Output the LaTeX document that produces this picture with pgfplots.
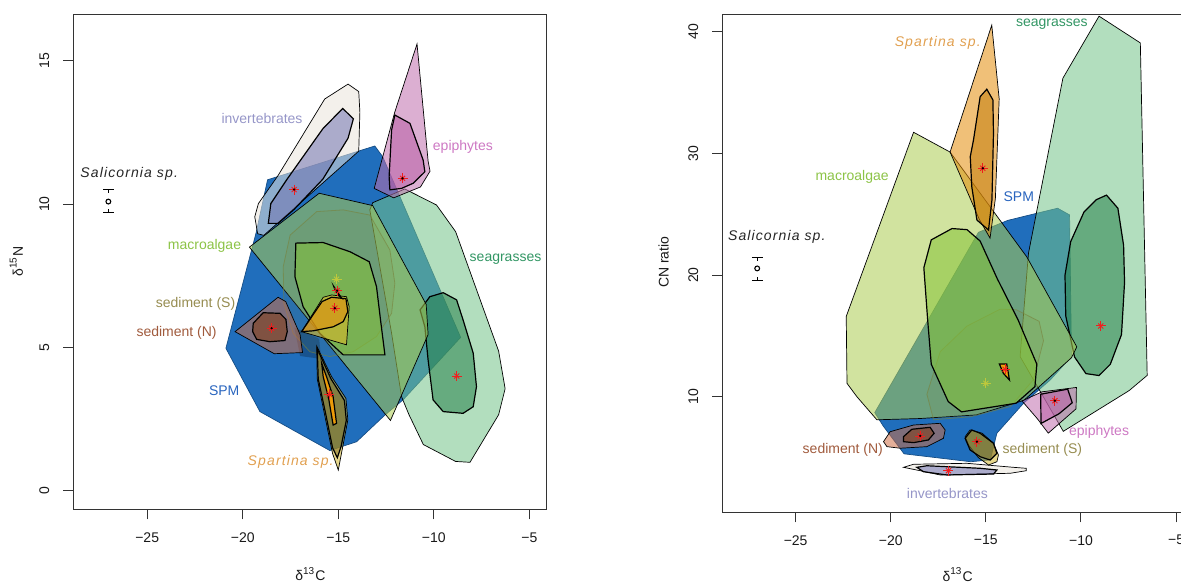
\documentclass[border=0pt]{standalone}
\usepackage{fontspec}
\setmainfont{Liberation Sans}
\newfontfamily\lsi[LetterSpace=8]{Liberation Sans}
\usepackage{pgfplots}
\pgfplotsset{compat=1.18}
\newcommand\fs{\fontsize{7}{8.4}\selectfont}
\definecolor{spm}{RGB}{32,110,188}
\definecolor{sgH}{RGB}{115,195,137}
\definecolor{sgI}{RGB}{40,130,75}
\definecolor{maH}{RGB}{172,204,80}
\definecolor{maI}{RGB}{132,195,54}
\definecolor{inH}{RGB}{233,228,219}
\definecolor{inI}{RGB}{114,116,177}
\definecolor{epH}{RGB}{191,110,173}
\definecolor{epI}{RGB}{184,93,165}
\definecolor{snH}{RGB}{205,110,70}
\definecolor{snI}{RGB}{130,60,20}
\definecolor{ssH}{RGB}{209,182,46}
\definecolor{ssI}{RGB}{130,110,30}
\definecolor{spH}{RGB}{228,140,10}
\definecolor{spI}{RGB}{195,125,11}
\definecolor{spO}{RGB}{255,160,0}
\definecolor{faint}{RGB}{120,130,60}
\definecolor{cInv}{RGB}{150,150,200}
\definecolor{cEpi}{RGB}{205,120,195}
\definecolor{cMac}{RGB}{140,195,70}
\definecolor{cSea}{RGB}{50,150,100}
\definecolor{cSS}{RGB}{150,140,80}
\definecolor{cSN}{RGB}{160,90,60}
\definecolor{cSPM}{RGB}{40,100,190}
\definecolor{cSp}{RGB}{225,160,80}
\definecolor{astc}{RGB}{240,30,30}
\definecolor{ygc}{RGB}{190,200,60}
\pgfplotsset{
  hull/.style={draw=black, line width=0.35pt, fill opacity=0.55, mark=none},
  inner/.style={draw=black, line width=0.6pt, fill opacity=0.55, mark=none},
  astp/.style={only marks, mark=+, mark size=2.5pt, color=astc, mark options={line width=0.45pt}},
  astx/.style={only marks, mark=x, mark size=1.8pt, color=astc, mark options={line width=0.45pt}},
  cdot/.style={only marks, mark=*, mark size=0.35pt, color=black},
  common/.style={
    scale only axis, anchor=south west,
    xmin=-28.87, xmax=-4.1,
    axis line style={draw=black!80, line width=0.5pt},
    xtick={-25,-20,-15,-10,-5}, xticklabels={−25,−20,−15,−10,−5},
    tick align=outside, major tick length=5pt,
    tick style={draw=black!80, line width=0.5pt},
    xtick pos=lower, ytick pos=left,
    ticklabel style={font=\fs, text=black!90},
    xticklabel shift=3pt, yticklabel shift=3.4pt,
    yticklabel style={rotate=90, anchor=south},
    label style={font=\fs, text=black!90},
  },
}
\begin{document}
\begin{tikzpicture}
% ================= LEFT =================
\begin{axis}[common, at={(36.6pt,36.85pt)}, width=236.7pt, height=247.55pt,
  ymin=-0.65, ymax=16.63, ytick={0,5,10,15}, yticklabels={0,5,10,15},
  xlabel={δ\textsuperscript{13}C}, ylabel={δ\textsuperscript{15}N},
  xlabel style={at={(axis description cs:0.501,-0.13)}, anchor=center},
  ylabel style={at={(axis description cs:-0.12,0.5)}, anchor=center}]
% SPM
\addplot[hull, fill=spm, fill opacity=1, draw=spm!70!black] coordinates {(-20.88,4.97) (-19.3,9.0) (-18.7,10.85) (-13.09,12.03) (-12.68,11.66) (-8.6,5.35) (-11.61,3.17) (-12.56,2.64) (-14.04,1.71) (-15.44,1.40) (-19.10,2.76)} --cycle;
\addplot[draw=none, fill=spm!60!black, fill opacity=0.6] coordinates {(-17.3,5.7) (-16.0,5.3) (-15.9,4.6) (-17.0,4.7)} --cycle;
% seagrasses
\addplot[hull, fill=sgH] coordinates {(-13.2,10.05) (-11.52,10.53) (-9.86,9.97) (-8.86,9.04) (-6.61,4.87) (-6.27,3.56) (-6.61,2.65) (-8.11,0.99) (-8.86,1.02) (-10.55,1.61) (-11.30,2.65) (-11.69,3.28) (-12.21,5.49) (-13.35,9.80)} --cycle;
\addplot[inner, fill=sgI] coordinates {(-10.72,6.31) (-10.21,6.77) (-9.51,6.91) (-8.81,6.66) (-8.47,5.96) (-7.94,4.80) (-7.77,3.63) (-7.94,2.93) (-8.47,2.70) (-9.51,2.76) (-10.04,3.17) (-10.30,4.56) (-10.47,5.72)} --cycle;
% macroalgae
\addplot[hull, fill=maH] coordinates {(-19.65,8.5) (-16.0,10.38) (-13.2,9.95) (-10.4,6.5) (-10.3,5.45) (-12.27,2.45)} --cycle;
\addplot[draw=faint, draw opacity=0.6, line width=0.4pt, fill=faint, fill opacity=0.12] coordinates {(-17.52,8.92) (-16.13,9.74) (-14.74,9.80) (-13.35,9.62) (-12.30,8.40) (-12.04,7.24) (-12.21,6.19) (-13.0,5.38) (-14.22,4.85) (-15.44,4.68) (-16.49,4.85) (-17.36,5.49) (-17.85,6.54) (-17.88,7.82)} --cycle;
\addplot[inner, fill=maI] coordinates {(-17.22,8.64) (-15.79,8.66) (-14.39,8.34) (-13.38,7.99) (-13.0,7.12) (-12.79,5.96) (-12.56,4.74) (-14.74,4.74) (-15.96,5.49) (-16.84,6.42) (-17.27,7.47)} --cycle;
% invertebrates
\addplot[hull, fill=inH] coordinates {(-19.37,9.56) (-19.18,10.02) (-18.15,11.0) (-15.71,13.67) (-14.49,14.19) (-13.93,13.93) (-13.87,13.21) (-13.93,11.85) (-18.90,8.91) (-19.22,8.97)} --cycle;
\addplot[inner, fill=inI] coordinates {(-18.66,9.33) (-18.53,10.02) (-17.68,10.87) (-15.81,12.63) (-14.77,13.34) (-14.21,12.98) (-14.49,12.30) (-15.81,10.87) (-17.31,9.82) (-18.15,9.33)} --cycle;
% epiphytes
\addplot[hull, fill=epH] coordinates {(-10.88,15.59) (-10.3,11.5) (-10.2,11.15) (-10.7,10.6) (-12.1,10.22) (-13.12,10.55) (-12.05,13.2)} --cycle;
\addplot[inner, fill=epI] coordinates {(-12.04,13.11) (-11.25,12.82) (-10.56,11.54) (-10.47,11.13) (-11.08,10.73) (-11.69,10.55) (-12.30,10.50) (-12.34,10.96) (-12.21,12.59)} --cycle;
% sediment (N)
\addplot[hull, fill=snH] coordinates {(-20.40,5.55) (-18.15,6.75) (-17.75,6.6) (-17.0,5.45) (-16.87,4.82) (-18.35,4.78)} --cycle;
\addplot[inner, fill=snI] coordinates {(-19.45,5.84) (-18.93,6.21) (-18.05,6.19) (-17.74,5.98) (-17.67,5.55) (-17.79,5.24) (-18.58,5.20) (-19.27,5.28) (-19.48,5.55)} --cycle;
% narrow shape
\addplot[hull, fill=ssH] coordinates {(-16.13,5.05) (-15.35,3.98) (-14.6,3.22) (-14.5,2.47) (-14.8,1.42) (-15.0,0.72) (-15.3,1.3) (-15.7,2.6) (-16.1,3.9)} --cycle;
\addplot[inner, fill=ssI] coordinates {(-16.1,4.95) (-15.38,3.9) (-14.68,3.15) (-14.58,2.45) (-14.85,1.55) (-15.05,1.15) (-15.3,1.5) (-15.65,2.65) (-16.05,3.9)} --cycle;
\addplot[inner, fill=spO, fill opacity=0.85] coordinates {(-15.87,4.45) (-15.6,3.95) (-15.27,3.28) (-15.09,2.35) (-15.27,2.29) (-15.5,3.2) (-15.79,3.98)} --cycle;
% kite
\addplot[hull, fill=ssH, fill opacity=0.65] coordinates {(-16.92,5.55) (-15.79,6.75) (-15.35,6.83) (-14.57,6.77) (-14.43,6.42) (-14.57,5.09)} --cycle;
\addplot[inner, fill=spH] coordinates {(-16.92,5.55) (-15.85,6.6) (-15.35,6.75) (-14.6,6.7) (-14.5,6.25) (-14.74,5.90) (-15.26,5.72) (-16.31,5.58)} --cycle;
\addplot[draw=black, line width=0.5pt, fill=black] coordinates {(-15.26,7.16) (-15.05,6.95) (-14.82,6.72) (-14.95,6.78) (-15.2,7.05)} --cycle;
% means
\addplot[only marks, mark=+, mark size=2.5pt, color=ygc, mark options={line width=0.45pt}] coordinates {(-15.09,7.38)};
\addplot[only marks, mark=x, mark size=1.8pt, color=ygc, mark options={line width=0.45pt}] coordinates {(-15.09,7.38)};
\addplot[astp] coordinates {(-18.49,5.67) (-17.31,10.51) (-11.64,10.90) (-8.8,4.0) (-15.18,6.37) (-15.06,6.98) (-15.47,3.37)};
\addplot[astx] coordinates {(-18.49,5.67) (-17.31,10.51) (-11.64,10.90) (-8.8,4.0) (-15.18,6.37) (-15.06,6.98) (-15.47,3.37)};
\addplot[cdot] coordinates {(-18.49,5.67) (-17.31,10.51) (-11.64,10.90) (-15.18,6.37) (-15.06,6.98)};
% Salicornia
\addplot[black, line width=0.5pt] coordinates {(-27.03,10.40) (-27.03,10.52)};
\addplot[black, line width=0.5pt] coordinates {(-27.31,10.52) (-26.75,10.52)};
\addplot[black, line width=0.5pt] coordinates {(-27.03,9.72) (-27.03,9.84)};
\addplot[black, line width=0.5pt] coordinates {(-27.31,9.72) (-26.75,9.72)};
\addplot[only marks, mark=o, mark size=1.2pt, black, mark options={line width=0.55pt}] coordinates {(-27.03,10.09)};
% labels
\node[font=\fs, text=cInv] at (axis cs:-18.99,12.98) {invertebrates};
\node[font=\fs, text=cEpi] at (axis cs:-8.48,12.01) {epiphytes};
\node[font=\fs\lsi\itshape, text=black!85] at (axis cs:-25.94,11.04) {Salicornia sp.};
\node[font=\fs, text=cMac] at (axis cs:-22.0,8.54) {macroalgae};
\node[font=\fs, text=cSea] at (axis cs:-6.25,8.09) {seagrasses};
\node[font=\fs, text=cSS] at (axis cs:-22.47,6.52) {sediment (S)};
\node[font=\fs, text=cSN] at (axis cs:-23.46,5.52) {sediment (N)};
\node[font=\fs, text=cSPM] at (axis cs:-20.97,3.50) {SPM};
\node[font=\fs\lsi\itshape, text=cSp] at (axis cs:-17.49,0.99) {Spartina sp.};
\end{axis}
% ================= RIGHT =================
\begin{axis}[common, at={(361pt,35.35pt)}, width=235.6pt, height=249.1pt,
  ymin=0.49, ymax=41.47, ytick={10,20,30,40}, yticklabels={10,20,30,40},
  xlabel={δ\textsuperscript{13}C}, ylabel={CN ratio},
  xlabel style={at={(axis description cs:0.5,-0.125)}, anchor=center},
  ylabel style={at={(axis description cs:-0.124,0.502)}, anchor=center}]
\addplot[hull, fill=spm, fill opacity=1, draw=spm!70!black] coordinates {(-20.84,8.69) (-20.4,7.6) (-19.3,5.3) (-15.8,4.65) (-14.77,4.8) (-14.42,7.0) (-13.02,9.46) (-11.62,11.37) (-10.5,13.3) (-10.6,24.95) (-11.23,25.5) (-12.42,25.05) (-13.85,24.5) (-15.39,23.52)} --cycle;
\addplot[hull, fill=sgH] coordinates {(-9.05,41.3) (-6.88,39.1) (-6.52,11.75) (-7.47,10.5) (-10.93,7.15) (-13.2,13.3) (-12.76,21.8) (-10.95,36.2)} --cycle;
\addplot[inner, fill=sgI] coordinates {(-8.66,26.58) (-8.06,25.5) (-7.76,22.45) (-7.71,19.39) (-7.87,15.11) (-8.46,12.66) (-9.05,11.74) (-9.74,11.9) (-10.34,13.27) (-10.80,16.64) (-10.84,20.0) (-10.54,22.76) (-9.84,25.2) (-9.2,26.2)} --cycle;
\addplot[hull, fill=maH] coordinates {(-18.80,31.75) (-16.88,30.12) (-12.85,21.5) (-10.22,14.1) (-10.5,13.2) (-13.0,9.7) (-15.5,8.5) (-18.5,8.2) (-20.73,8.1) (-21.78,10.0) (-22.3,11.1) (-22.34,16.6)} --cycle;
\addplot[draw=faint, draw opacity=0.6, line width=0.4pt, fill=faint, fill opacity=0.12] coordinates {(-18.1,10.2) (-17.4,13.7) (-16.0,15.8) (-14.25,17.2) (-13.4,17.15) (-12.2,16.2) (-11.97,14.6) (-12.5,11.4) (-13.7,9.2) (-15.8,8.35) (-17.75,8.1)} --cycle;
\addplot[inner, fill=maI] coordinates {(-16.78,23.83) (-15.99,23.74) (-15.3,22.8) (-14.40,19.70) (-13.31,16.33) (-12.32,12.67) (-12.42,10.83) (-13.41,9.46) (-16.28,8.75) (-16.98,9.6) (-17.87,12.67) (-18.06,16.33) (-18.26,20.61) (-17.87,22.9)} --cycle;
\addplot[hull, fill=inH] coordinates {(-19.33,4.19) (-18.80,4.44) (-16.0,4.52) (-13.55,4.19) (-12.88,4.11) (-12.88,3.91) (-13.72,3.70) (-17.40,3.56) (-18.45,3.91)} --cycle;
\addplot[inner, fill=inI] coordinates {(-18.63,4.19) (-18.10,4.32) (-15.30,4.11) (-14.42,3.97) (-14.60,3.64) (-17.05,3.56) (-18.28,3.83)} --cycle;
\addplot[hull, fill=epH] coordinates {(-13.1,9.65) (-12.05,10.4) (-10.24,10.76) (-10.26,9.0) (-11.72,7.0) (-12.3,8.2)} --cycle;
\addplot[inner, fill=epI] coordinates {(-12.12,10.2) (-10.7,10.62) (-10.46,9.5) (-11.15,8.6) (-12.1,7.8)} --cycle;
\addplot[hull, fill=snH] coordinates {(-20.38,6.30) (-20.03,7.12) (-18.80,7.67) (-17.40,7.81) (-17.14,7.26) (-17.23,6.58) (-18.10,5.89) (-19.50,5.76) (-20.20,5.89)} --cycle;
\addplot[inner, fill=snI] coordinates {(-19.33,6.71) (-18.89,7.32) (-17.93,7.48) (-17.72,6.99) (-18.02,6.44) (-18.80,6.22) (-19.33,6.30)} --cycle;
\addplot[hull, fill=ssH] coordinates {(-16.09,6.71) (-15.83,7.26) (-15.2,7.0) (-14.60,6.17) (-14.34,5.20) (-14.42,4.65) (-14.86,4.38) (-15.4,5.0) (-15.9,6.0)} --cycle;
\addplot[inner, fill=ssI] coordinates {(-16.09,6.58) (-15.74,7.26) (-15.30,6.99) (-14.60,6.17) (-14.42,5.34) (-14.77,4.79) (-15.30,5.06) (-15.83,5.62)} --cycle;
\addplot[hull, fill=spH] coordinates {(-14.69,40.56) (-14.3,34.5) (-14.5,26.3) (-14.78,23.04) (-15.35,24.6) (-16.88,30.12)} --cycle;
\addplot[inner, fill=spI] coordinates {(-14.95,35.29) (-14.63,34.41) (-14.60,31.67) (-14.68,26.18) (-14.86,23.71) (-15.47,24.53) (-15.74,27.27) (-15.82,29.74) (-15.65,31.12) (-15.30,34.68)} --cycle;
\addplot[inner, fill=spO, fill opacity=0.85] coordinates {(-14.29,12.69) (-13.90,12.69) (-13.76,11.37) (-14.08,11.92)} --cycle;
\addplot[only marks, mark=+, mark size=2.5pt, color=ygc, mark options={line width=0.45pt}] coordinates {(-15.0,11.1)};
\addplot[only marks, mark=x, mark size=1.8pt, color=ygc, mark options={line width=0.45pt}] coordinates {(-15.0,11.1)};
\addplot[astp] coordinates {(-8.96,15.82) (-15.16,28.79) (-13.99,12.25) (-11.37,9.67) (-18.45,6.77) (-15.47,6.30) (-16.97,3.91)};
\addplot[astx] coordinates {(-8.96,15.82) (-15.16,28.79) (-13.99,12.25) (-11.37,9.67) (-18.45,6.77) (-15.47,6.30) (-16.97,3.91)};
\addplot[cdot] coordinates {(-15.16,28.79) (-11.37,9.67) (-18.45,6.77) (-15.47,6.30)};
\addplot[black, line width=0.5pt] coordinates {(-27.02,21.17) (-27.02,21.44)};
\addplot[black, line width=0.5pt] coordinates {(-27.30,21.44) (-26.74,21.44)};
\addplot[black, line width=0.5pt] coordinates {(-27.02,19.54) (-27.02,19.81)};
\addplot[black, line width=0.5pt] coordinates {(-27.30,19.54) (-26.74,19.54)};
\addplot[only marks, mark=o, mark size=1.2pt, black, mark options={line width=0.55pt}] coordinates {(-27.02,20.55)};
\node[font=\fs\lsi\itshape, text=cSp] at (axis cs:-17.53,39.11) {Spartina sp.};
\node[font=\fs, text=cSea] at (axis cs:-11.53,40.64) {seagrasses};
\node[font=\fs, text=cMac] at (axis cs:-22.03,28.1) {macroalgae};
\node[font=\fs, text=cSPM] at (axis cs:-13.27,26.49) {SPM};
\node[font=\fs\lsi\itshape, text=black!85] at (axis cs:-25.99,23.12) {Salicornia sp.};
\node[font=\fs, text=cSN] at (axis cs:-22.52,5.63) {sediment (N)};
\node[font=\fs, text=cSS] at (axis cs:-12.03,5.63) {sediment (S)};
\node[font=\fs, text=cEpi] at (axis cs:-9.05,7.10) {epiphytes};
\node[font=\fs, text=cInv] at (axis cs:-17.02,2.02) {invertebrates};
\end{axis}
\pgfresetboundingbox
\useasboundingbox (0,0) rectangle (590.5pt,291.5pt);
\end{tikzpicture}
\end{document}
